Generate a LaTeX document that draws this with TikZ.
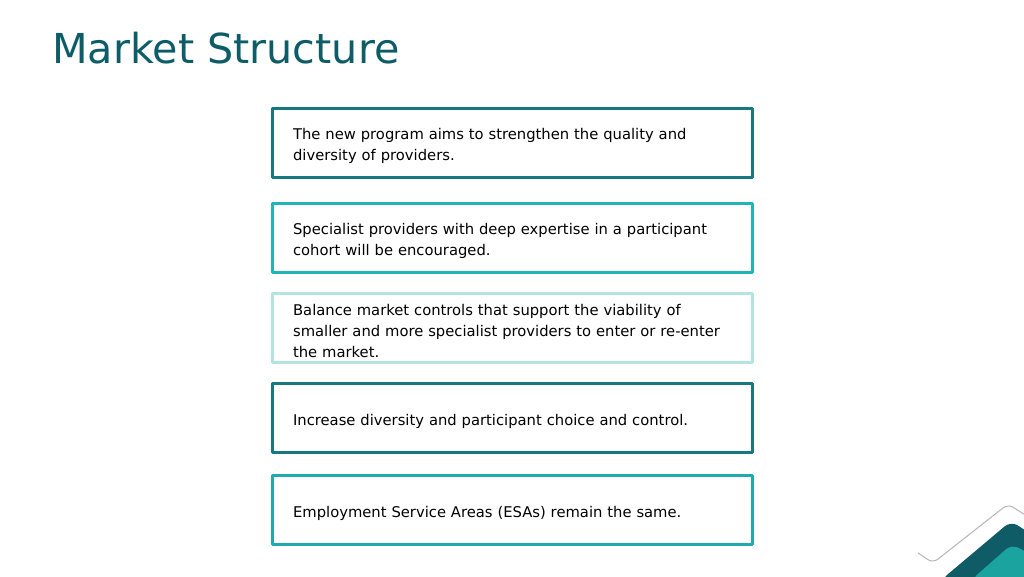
\documentclass[tikz,border=0pt]{standalone}
\usepackage{fontspec}
\setmainfont{DejaVu Sans}
\definecolor{titleteal}{HTML}{0D5C68}
\definecolor{tealdark}{HTML}{17787F}
\definecolor{teallight}{HTML}{20B4B7}
\definecolor{tealpale}{HTML}{B4E3E3}
\definecolor{tealmid}{HTML}{1DABB0}
\definecolor{cornerdark}{HTML}{0F5C66}
\definecolor{cornerlight}{HTML}{1BA39F}
\begin{document}
\begin{tikzpicture}[x=0.02cm,y=-0.02cm,line join=round,
	box/.style={draw=#1,line width=1.8pt,rectangle,anchor=west,
		minimum width=9.6cm,minimum height=1.38cm,text width=8.78cm,
		inner xsep=0.41cm,inner ysep=0pt,align=left,font=\fontsize{8.4}{11.9}\selectfont,
		execute at begin node={\rule{0pt}{9.8pt}}}]
	\useasboundingbox (0,0) rectangle (1024,576);
	\node[anchor=base west,inner sep=0pt,text=titleteal,font=\fontsize{23.5}{28}\selectfont] (title) at (52,63) {Market Structure};
	% the five boxes
	\foreach \y/\c/\n/\t in {
		143/tealdark/b1/{The new program aims to strengthen the quality and\\diversity of providers.},
		238/teallight/b2/{Specialist providers with deep expertise in a participant\\cohort will be encouraged.},
		328/tealpale/b3/{Balance market controls that support the viability of\\smaller and more specialist providers to enter or re-enter\\the market.},
		418/tealdark/b4/{Increase diversity and participant choice and control.},
		510/tealmid/b5/{Employment Service Areas (ESAs) remain the same.}}
	\node[box=\c] (\n) at (271,\y) {\t};
	% corner decoration
	\fill[cornerdark,rounded corners=0.16cm] (941,580) -- (1011,521) -- (1040,540) -- (1040,580) -- cycle;
	\fill[cornerlight,rounded corners=0.16cm] (971,580) -- (1012,544) -- (1040,560) -- (1040,580) -- cycle;
	\draw[black!28,line width=0.6pt,rounded corners=0.12cm] (918,553) -- (933,563) -- (1008,504) -- (1030,518);
\end{tikzpicture}
\end{document}
